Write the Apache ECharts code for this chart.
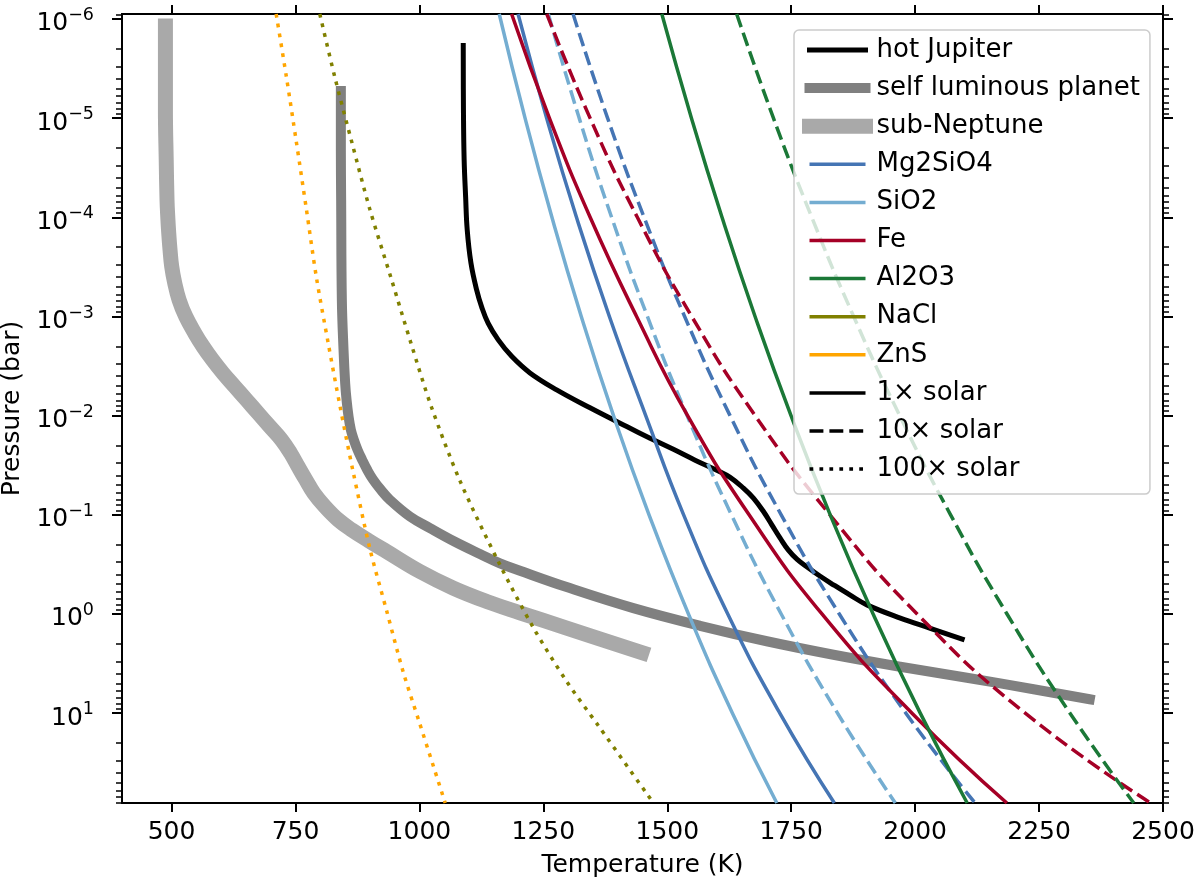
<!DOCTYPE html>
<html>
<head>
<meta charset="utf-8">
<script src="https://cdn.jsdelivr.net/npm/echarts@6/dist/echarts.min.js"></script>
<style>
html,body{margin:0;padding:0;background:#ffffff;}
#c{width:1200px;height:888px;}
</style>
</head>
<body>
<div id="c"></div>
<script>
// ---------------- data (temperature in K, log10 of pressure in bar) ----------------
const xTickValues = [500, 750, 1000, 1250, 1500, 1750, 2000, 2250, 2500];
const yTickExponents = [-6, -5, -4, -3, -2, -1, 0, 1];
const legendNames = ['hot Jupiter', 'self luminous planet', 'sub-Neptune', 'Mg2SiO4', 'SiO2', 'Fe', 'Al2O3', 'NaCl', 'ZnS', '1× solar', '10× solar', '100× solar'];

const hotJupiterT    = [1088.4, 1088.8, 1090.2, 1093.2, 1096.4, 1103.9, 1115.4, 1125.5, 1138.8, 1159.0, 1186.1, 1223.0, 1276.9, 1344.1, 1418.2, 1465.3, 1512.3, 1556.1, 1599.9, 1626.8, 1653.6, 1673.8, 1694.0, 1710.9, 1727.7, 1743.9, 1762.0, 1784.2, 1808.5, 1835.3, 1869.0, 1902.7, 1970.1, 2030.6, 2094.9];
const hotJupiterLogP = [-5.733, -5.083, -4.579, -4.206, -3.873, -3.540, -3.268, -3.097, -2.930, -2.764, -2.598, -2.431, -2.260, -2.079, -1.890, -1.773, -1.660, -1.551, -1.449, -1.378, -1.269, -1.168, -1.033, -0.899, -0.765, -0.647, -0.551, -0.466, -0.380, -0.294, -0.190, -0.092, 0.041, 0.144, 0.253];

const selfLuminousT    = [841.5, 841.5, 842.1, 843.5, 846.9, 850.2, 853.0, 857.0, 861.7, 867.7, 875.2, 884.5, 894.6, 906.7, 922.2, 940.4, 980.8, 1021.2, 1071.6, 1122.1, 1162.5, 1202.8, 1297.1, 1431.5, 1566.2, 1700.8, 1835.3, 1969.9, 2104.5, 2239.0, 2352.2];
const selfLuminousLogP = [-5.274, -4.679, -4.175, -3.167, -2.663, -2.327, -2.159, -1.991, -1.857, -1.756, -1.655, -1.554, -1.454, -1.353, -1.252, -1.151, -0.983, -0.866, -0.728, -0.605, -0.511, -0.436, -0.271, -0.059, 0.119, 0.275, 0.411, 0.532, 0.643, 0.759, 0.860];

const subNeptuneT    = [487.6, 487.6, 489.2, 490.8, 492.3, 494.3, 496.9, 500.3, 506.4, 515.1, 528.6, 546.8, 563.5, 582.5, 603.9, 627.5, 651.1, 674.5, 698.2, 721.8, 740.0, 755.3, 770.8, 787.0, 809.2, 836.0, 863.1, 898.0, 933.7, 1001.0, 1068.2, 1135.6, 1202.8, 1297.1, 1448.7];
const subNeptuneLogP = [-5.929, -5.083, -4.579, -4.175, -4.007, -3.840, -3.671, -3.503, -3.336, -3.168, -2.999, -2.832, -2.697, -2.563, -2.428, -2.293, -2.159, -2.025, -1.890, -1.756, -1.622, -1.487, -1.353, -1.219, -1.084, -0.950, -0.849, -0.738, -0.630, -0.428, -0.261, -0.126, -0.012, 0.142, 0.390];

// condensation curves, read at log10(P) = -6.05, -5, -4, -3, -2, -1, 0, 1, 1.906
const curveLogP      = [-6.05, -5, -4, -3, -2, -1, 0, 1, 1.906];
const mg2sio4SolarT  = [1199, 1256.6, 1316.8, 1383.2, 1456.5, 1533, 1622, 1727, 1837];
const mg2sio4x10T    = [1310, 1379.6, 1453.2, 1535.0, 1626.6, 1729.8, 1847.0, 1981.3, 2121];
const sio2SolarT     = [1161, 1213.1, 1267.3, 1326.5, 1391.5, 1463.2, 1542.7, 1631.4, 1721];
const sio2x10T       = [1260, 1322.3, 1387.7, 1459.9, 1540.0, 1629.4, 1729.8, 1843.4, 1960];
const feSolarT       = [1186, 1262.2, 1344.4, 1438.1, 1541, 1665, 1812, 1993.7, 2185];
const fex10T         = [1257, 1344.3, 1439.6, 1549.3, 1677.2, 1828.1, 2004, 2222, 2475];
const al2o3SolarT    = [1489, 1548.8, 1610.4, 1677.1, 1749.6, 1828.7, 1915.2, 2010.3, 2105];
const al2o3x10T      = [1640, 1714.2, 1791.5, 1876.0, 1968.9, 2071.5, 2185.3, 2312.4, 2441];

const naclx100T      = [799, 829, 864, 900, 942, 983, 1024, 1082, 1162, 1230, 1297, 1360, 1472];
const naclx100LogP   = [-6.05, -5.42, -4.75, -4.08, -3.40, -2.73, -2.09, -1.34, -0.50, 0.14, 0.68, 1.12, 1.906];
const znsx100T       = [711, 731.5, 752, 772, 792, 816, 840, 866, 900, 934, 967, 999, 1052];
const znsx100LogP    = [-6.05, -5.42, -4.75, -4.08, -3.40, -2.73, -2.09, -1.44, -0.66, -0.03, 0.58, 1.08, 1.906];

// ---------------- styling ----------------
const FONT = 'DejaVu Sans';
const C = { mg: '#4575b4', si: '#74add1', fe: '#a50026', al: '#1b7837', nacl: '#808000', zns: '#ffa500' };
const LW = 3.5;
const DASH = [13.9, 6];
const DOT = [3.75, 6.2];

function pts(T, L) { return T.map((t, i) => [t, L[i]]); }

function lineSeries(name, T, L, color, width, type, cap, smooth) {
  return {
    type: 'line', name: name, data: (T && L) ? pts(T, L) : [],
    xAxisIndex: 0, yAxisIndex: 0,
    symbol: 'none', showSymbol: false, smooth: smooth == null ? 0.5 : smooth,
    clip: true, silent: true,
    lineStyle: { color: color, width: width, type: type, cap: cap || 'butt', join: 'round' },
    itemStyle: { color: color },
    emphasis: { disabled: true },
    animation: false
  };
}

const series = [
  // planet profiles (drawn first, underneath)
  lineSeries('hot Jupiter', hotJupiterT, hotJupiterLogP, '#000000', 5, 'solid', 'square', 0.4),
  lineSeries('self luminous planet', selfLuminousT, selfLuminousLogP, '#808080', 10, 'solid', 'square', 0.4),
  lineSeries('sub-Neptune', subNeptuneT, subNeptuneLogP, '#a9a9a9', 15, 'solid', 'square', 0.4),
  // condensation curves
  lineSeries('Mg2SiO4 1×', mg2sio4SolarT, curveLogP, C.mg, LW, 'solid'),
  lineSeries('Mg2SiO4 10×', mg2sio4x10T, curveLogP, C.mg, LW, DASH),
  lineSeries('SiO2 1×', sio2SolarT, curveLogP, C.si, LW, 'solid'),
  lineSeries('SiO2 10×', sio2x10T, curveLogP, C.si, LW, DASH),
  lineSeries('Fe 1×', feSolarT, curveLogP, C.fe, LW, 'solid'),
  lineSeries('Fe 10×', fex10T, curveLogP, C.fe, LW, DASH),
  lineSeries('Al2O3 1×', al2o3SolarT, curveLogP, C.al, LW, 'solid'),
  lineSeries('Al2O3 10×', al2o3x10T, curveLogP, C.al, LW, DASH),
  lineSeries('NaCl 100×', naclx100T, naclx100LogP, C.nacl, LW, DOT, 'butt', 0.3),
  lineSeries('ZnS 100×', znsx100T, znsx100LogP, C.zns, LW, DOT, 'butt', 0.3),
  // legend-only entries
  lineSeries('Mg2SiO4', null, null, C.mg, LW, 'solid'),
  lineSeries('SiO2', null, null, C.si, LW, 'solid'),
  lineSeries('Fe', null, null, C.fe, LW, 'solid'),
  lineSeries('Al2O3', null, null, C.al, LW, 'solid'),
  lineSeries('NaCl', null, null, C.nacl, LW, 'solid'),
  lineSeries('ZnS', null, null, C.zns, LW, 'solid'),
  lineSeries('1× solar', null, null, '#000000', LW, 'solid'),
  lineSeries('10× solar', null, null, '#000000', LW, DASH),
  lineSeries('100× solar', null, null, '#000000', LW, DOT)
];

const Y_MIN = -6.05, Y_MAX = 1.906;
const yMinorValues = [];
for (let n = -7; n <= 1; n++) {
  for (let k = 2; k <= 9; k++) {
    const v = n + Math.log10(k);
    if (v >= Y_MIN && v <= Y_MAX) yMinorValues.push(v);
  }
}

function supLabel(v) {
  const e = Math.round(v);
  const s = e < 0 ? '\u2212' + (-e) : String(e);
  return '{b|10}{s|' + s + '}';
}

const axisLineStyle = { color: '#000000', width: 2 };

const xCommon = {
  type: 'value', min: 400, max: 2500, gridIndex: 0,
  splitLine: { show: false }, minorTick: { show: false },
  axisLine: { show: true, onZero: false, lineStyle: axisLineStyle }
};
const yCommon = {
  type: 'value', min: Y_MIN, max: Y_MAX, inverse: true, gridIndex: 0,
  splitLine: { show: false }, minorTick: { show: false },
  axisLine: { show: true, onZero: false, lineStyle: axisLineStyle }
};

const option = {
  animation: false,
  backgroundColor: '#ffffff',
  textStyle: { fontFamily: FONT, color: '#000000' },
  grid: { left: 122, right: 37, top: 14, bottom: 85, containLabel: false, outerBoundsMode: 'none' },
  xAxis: [
    Object.assign({}, xCommon, {
      position: 'bottom',
      name: 'Temperature (K)', nameLocation: 'middle', nameGap: 50,
      nameTextStyle: { fontSize: 25, fontFamily: FONT, color: '#000000' },
      axisTick: { show: true, inside: false, length: 9, customValues: xTickValues, lineStyle: { color: '#000', width: 2 } },
      axisLabel: { show: true, customValues: xTickValues, fontSize: 25, fontFamily: FONT, color: '#000000', margin: 17,
        formatter: function (v) { return String(Math.round(v)); } }
    }),
    Object.assign({}, xCommon, {
      position: 'top',
      axisTick: { show: true, inside: false, length: 9, customValues: xTickValues, lineStyle: { color: '#000', width: 2 } },
      axisLabel: { show: false }
    })
  ],
  yAxis: [
    Object.assign({}, yCommon, {
      position: 'left',
      name: 'Pressure (bar)', nameLocation: 'middle', nameGap: 94,
      nameTextStyle: { fontSize: 25, fontFamily: FONT, color: '#000000' },
      axisTick: { show: true, inside: false, length: 10, customValues: yTickExponents, lineStyle: { color: '#000', width: 2 } },
      axisLabel: {
        show: true, customValues: yTickExponents, margin: 28, padding: [5, 0, 0, 0],
        formatter: supLabel,
        rich: {
          b: { fontSize: 25, fontFamily: FONT, color: '#000000', lineHeight: 30, verticalAlign: 'bottom' },
          s: { fontSize: 17.5, fontFamily: FONT, color: '#000000', lineHeight: 18, verticalAlign: 'top' }
        }
      }
    }),
    Object.assign({}, yCommon, {
      position: 'left',
      axisTick: { show: true, inside: false, length: 6, customValues: yMinorValues, lineStyle: { color: '#000', width: 1.5 } },
      axisLabel: { show: false }
    }),
    Object.assign({}, yCommon, {
      position: 'right',
      axisTick: { show: true, inside: false, length: 10, customValues: yTickExponents, lineStyle: { color: '#000', width: 2 } },
      axisLabel: { show: false }
    }),
    Object.assign({}, yCommon, {
      position: 'right',
      axisTick: { show: true, inside: false, length: 6, customValues: yMinorValues, lineStyle: { color: '#000', width: 1.5 } },
      axisLabel: { show: false }
    })
  ],
  legend: {
    data: legendNames,
    orient: 'vertical',
    left: 794, top: 30,
    padding: [5, 10, 10, 8],
    itemGap: 8.1, itemWidth: 56, itemHeight: 14,
    backgroundColor: 'rgba(255,255,255,0.8)',
    borderColor: '#cccccc', borderWidth: 1.5, borderRadius: 5,
    selectedMode: false,
    textStyle: { fontSize: 26, fontFamily: FONT, color: '#000000', lineHeight: 30, padding: [0, 0, 0, 6] },
    itemStyle: { opacity: 0, color: 'rgba(0,0,0,0)', borderWidth: 0 },
    lineStyle: { width: 'inherit', type: 'inherit', color: 'inherit', cap: 'inherit' }
  },
  series: series
};

const chart = echarts.init(document.getElementById('c'), null, { renderer: 'canvas' });
chart.setOption(option);
</script>
</body>
</html>
